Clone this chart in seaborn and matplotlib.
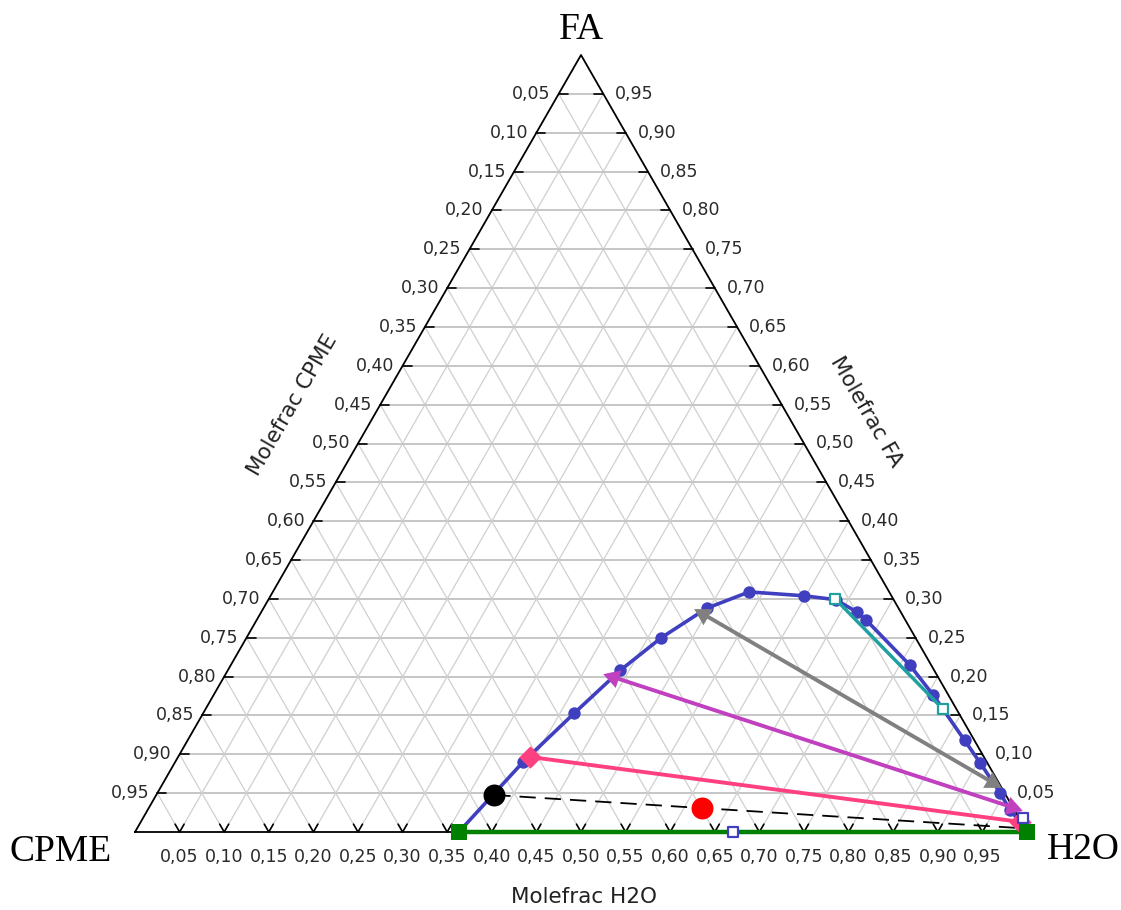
import numpy as np
import pandas as pd
import matplotlib
matplotlib.use("Agg")
import matplotlib.pyplot as plt
import seaborn as sns

# ---------------------------------------------------------------
# Ternary LLE data, CPME / FA / H2O (mole fractions: H2O, FA)
# ---------------------------------------------------------------
binodal_h2o = [0.363, 0.390, 0.416, 0.440, 0.465, 0.497, 0.534, 0.598, 0.636,
               0.668, 0.683, 0.761, 0.807, 0.871, 0.903, 0.945, 0.967, 0.986, 1.000]
binodal_fa = [0.000, 0.090, 0.153, 0.208, 0.250, 0.288, 0.309, 0.304, 0.299,
              0.283, 0.273, 0.215, 0.176, 0.118, 0.089, 0.050, 0.028, 0.013, 0.000]

tie_green_h2o, tie_green_fa = [0.363, 1.000], [0.000, 0.000]
tie_pink_h2o, tie_pink_fa = [0.395, 0.986], [0.0965, 0.013]
tie_magenta_h2o, tie_magenta_fa = [0.436, 0.967], [0.1995, 0.032]
tie_grey_h2o, tie_grey_fa = [0.4965, 0.929], [0.2806, 0.064]
tie_teal_h2o, tie_teal_fa = [0.635, 0.827], [0.300, 0.158]
tie_dashed_h2o, tie_dashed_fa = [0.379, 0.990], [0.0476, 0.005]

feed_h2o, feed_fa = [0.620], [0.031]
raffinate_h2o, raffinate_fa = [0.379], [0.0476]
open_pts_h2o, open_pts_fa = [0.670, 0.9865], [0.000, 0.018]

tick_values = [round(0.05 * i, 2) for i in range(1, 20)]
vertex_names = ["CPME", "H2O", "FA"]
axis_titles = ["Molefrac CPME", "Molefrac H2O", "Molefrac FA"]

H = np.sqrt(3) / 2


def to_xy(h2o, fa):
    h2o = np.asarray(h2o, dtype=float)
    fa = np.asarray(fa, dtype=float)
    return h2o + fa / 2, fa * H


def fmt(v):
    return f"{v:.2f}".replace(".", ",")


sns.set_style("white")
plt.rcParams["font.family"] = ["DejaVu Sans"]

fig = plt.figure(figsize=(11.21, 9.10), dpi=100)
ax = fig.add_axes([0, 0, 1, 1])
px_x = 892.0          # pixels per unit along the base
px_y = 777.0 / H      # pixels per unit in height
ax.set_xlim(-135 / px_x, (1121 - 135) / px_x)
ax.set_ylim(-(910 - 832) / px_y, 832 / px_y)
ax.axis("off")

# ---------------- grid ----------------
for k in tick_values:
    # constant FA (horizontal)
    x, y = to_xy([0, 1 - k], [k, k])
    ax.plot(x, y, color="#c6c6c6", lw=1.4, zorder=1)
    # constant H2O
    x, y = to_xy([k, k], [0, 1 - k])
    ax.plot(x, y, color="#d0d0d0", lw=0.9, zorder=1)
    # constant CPME
    x, y = to_xy([1 - k, 0], [0, 1 - k])
    ax.plot(x, y, color="#d0d0d0", lw=0.9, zorder=1)

# triangle frame
x, y = to_xy([0, 1, 0, 0], [0, 0, 1, 0])
ax.plot(x, y, color="black", lw=1.3, zorder=2)

# ticks and tick labels
tl = 9 / px_x
lab_kw = dict(textcoords="offset pixels", fontsize=12.5, color="#2a2a2a",
              annotation_clip=False)
for k in tick_values:
    # left edge: CPME
    x0, y0 = to_xy(0, k)
    ax.plot([x0, x0 + tl], [y0, y0], color="black", lw=1.2, zorder=2)
    ax.annotate(fmt(1 - k), (x0, y0), xytext=(-8, 0), ha="right", va="center", **lab_kw)
    # right edge: FA
    x0, y0 = to_xy(1 - k, k)
    ax.plot([x0, x0 - tl], [y0, y0], color="black", lw=1.2, zorder=2)
    ax.annotate(fmt(k), (x0, y0), xytext=(12, 0), ha="left", va="center", **lab_kw)
    # bottom edge: H2O
    x0, y0 = to_xy(k, 0)
    dx, dy = 0.5 * 9 / px_x, H * 9 / px_x
    ax.plot([x0 - dx, x0, x0 + dx], [y0 + dy, y0, y0 + dy], color="black", lw=1.2, zorder=2)
    ax.annotate(fmt(k), (x0, y0), xytext=(0, -25), ha="center", va="center", **lab_kw)

# vertex names
vtx_kw = dict(textcoords="offset pixels", fontsize=27, family="Liberation Serif",
              color="black", ha="center", va="center", annotation_clip=False)
ax.annotate(vertex_names[0], to_xy(0, 0), xytext=(-74, -20), **vtx_kw)
ax.annotate(vertex_names[1], to_xy(1, 0), xytext=(56, -18), **vtx_kw)
ax.annotate(vertex_names[2], to_xy(0, 1), xytext=(0, 25), **vtx_kw)

# axis titles
ttl_kw = dict(fontsize=15.5, color="#222222", ha="center", va="center")
ax.text((584 - 135) / px_x, (832 - 897) / px_y, axis_titles[1], **ttl_kw)
ax.text((293 - 135) / px_x, (832 - 405) / px_y, axis_titles[0], rotation=60, **ttl_kw)
ax.text((866 - 135) / px_x, (832 - 412) / px_y, axis_titles[2], rotation=-60, **ttl_kw)


# ---------------- data ----------------
def line(h2o, fa, color, lw, z, **kw):
    x, y = to_xy(h2o, fa)
    sns.lineplot(x=x, y=y, sort=False, estimator=None, color=color, lw=lw,
                 ax=ax, legend=False, zorder=z, **kw)


def pts(h2o, fa, color, s, marker, z, face=None, ew=0):
    x, y = to_xy(h2o, fa)
    sns.scatterplot(x=x, y=y, ax=ax, color=face if face else color, s=s,
                    marker=marker, edgecolor=color, linewidth=ew,
                    legend=False, zorder=z)


def angle(h2o, fa, i, j):
    x, y = to_xy(h2o, fa)
    return np.degrees(np.arctan2((y[j] - y[i]) * px_y, (x[j] - x[i]) * px_x)) - 90


blue = "#3f3fbf"
line(binodal_h2o, binodal_fa, blue, 2.6, 3)
pts(binodal_h2o[1:-1], binodal_fa[1:-1], blue, 80, "o", 4)

# tie lines
line(tie_grey_h2o, tie_grey_fa, "#808080", 2.8, 5)
for i, j in [(0, 1), (1, 0)]:
    pts([tie_grey_h2o[i]], [tie_grey_fa[i]], "#808080", 240,
        (3, 0, angle(tie_grey_h2o, tie_grey_fa, j, i)), 6)

line(tie_magenta_h2o, tie_magenta_fa, "#c040c0", 2.8, 5)
for i, j in [(0, 1), (1, 0)]:
    pts([tie_magenta_h2o[i]], [tie_magenta_fa[i]], "#c040c0", 240,
        (3, 0, angle(tie_magenta_h2o, tie_magenta_fa, j, i)), 6)

line(tie_pink_h2o, tie_pink_fa, "#ff4080", 2.8, 5)
pts(tie_pink_h2o, tie_pink_fa, "#ff4080", 130, "D", 6)

line(tie_teal_h2o, tie_teal_fa, "#20a0a0", 2.5, 5)
pts(tie_teal_h2o, tie_teal_fa, "#20a0a0", 50, "s", 6, face="white", ew=1.6)

line(tie_green_h2o, tie_green_fa, "#008000", 3.2, 5)
pts(tie_green_h2o, tie_green_fa, "#008000", 140, "s", 6)

line(tie_dashed_h2o, tie_dashed_fa, "black", 1.3, 5, linestyle=(0, (9, 5)))
pts(raffinate_h2o, raffinate_fa, "black", 250, "o", 7)
pts(feed_h2o, feed_fa, "red", 250, "o", 7)

pts(open_pts_h2o, open_pts_fa, blue, 50, "s", 8, face="white", ew=1.6)

fig.savefig("out.png", dpi=100)
